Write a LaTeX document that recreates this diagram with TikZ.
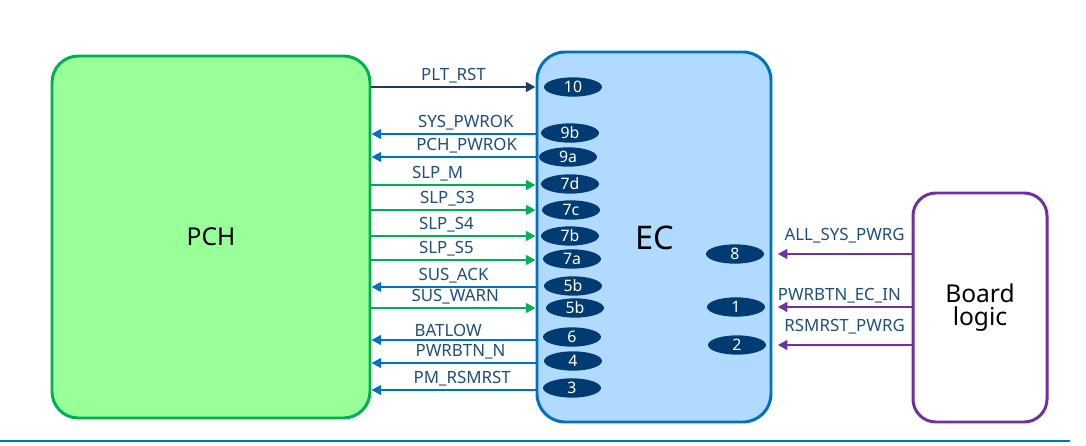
\documentclass[tikz,border=0pt]{standalone}
\usepackage{fontspec}
\setmainfont{Noto Sans}
\usetikzlibrary{arrows.meta,shapes.geometric}
\definecolor{pchfill}{HTML}{99FF99}
\definecolor{pchline}{HTML}{00B050}
\definecolor{ecfill}{HTML}{B0DAFF}
\definecolor{ecline}{HTML}{0070C0}
\definecolor{brdline}{HTML}{7030A0}
\definecolor{pinfill}{HTML}{003C71}
\definecolor{rstline}{HTML}{1F3A66}
\definecolor{lbltext}{HTML}{1F4E79}
\tikzset{
  pinoval/.style={ellipse,fill=pinfill,text=white,font=\bfseries\fontsize{9}{9}\selectfont,minimum width=33pt,minimum height=11pt,inner sep=0pt},
  sig/.style={line width=1.6pt,-{Triangle[length=5.5pt,width=5.5pt]}},
  lbl/.style={midway,above,text=lbltext,font=\fontsize{9.6}{10}\selectfont,inner sep=1.2pt}
}
\begin{document}
\begin{tikzpicture}[x=0.02cm,y=-0.02cm]
\useasboundingbox (0,0) rectangle (1086,446);
% blocks
\node[draw=pchline,fill=pchfill,line width=1.7pt,rounded corners=15pt,minimum width=318*0.02cm,minimum height=362*0.02cm,font=\fontsize{14}{15}\selectfont] (pch) at (211,237) {PCH};
\node[draw=ecline,fill=ecfill,line width=1.7pt,rounded corners=16pt,minimum width=234*0.02cm,minimum height=370*0.02cm] (ec) at (654,237) {};
\node[font=\fontsize{18.5}{19}\selectfont] (ectxt) at (655,238) {EC};
\node[draw=brdline,line width=1.7pt,rounded corners=13pt,minimum width=134*0.02cm,minimum height=229*0.02cm,align=center,font=\fontsize{14}{15}\selectfont] (brd) at (980,307.5) {Board\\[-2pt]logic};
% pins, PCH side
\node[pinoval] (p10) at (573,87) {10};
\node[pinoval] (p9b) at (570,133) {9b};
\node[pinoval] (p9a) at (568,157) {9a};
\node[pinoval] (p7d) at (570,184) {7d};
\node[pinoval] (p7c) at (571,210) {7c};
\node[pinoval] (p7b) at (570,236) {7b};
\node[pinoval] (p7a) at (572,259) {7a};
\node[pinoval] (p5x) at (573,286) {5b};
\node[pinoval] (p5y) at (575,308) {5b};
\node[pinoval] (p6) at (572,337) {6};
\node[pinoval] (p4) at (573,361) {4};
\node[pinoval] (p3) at (572,388) {3};
% pins, board side
\node[pinoval] (p8) at (735,254) {8};
\node[pinoval] (p1) at (736,307) {1};
\node[pinoval] (p2) at (737,345) {2};
% signals PCH <-> EC
\draw[sig,color=rstline] (pch.east |- 0,87) -- (ec.west |- 0,87) node[lbl]{PLT\_RST};
\draw[sig,color=ecline] (ec.west |- 0,134) -- (pch.east |- 0,134) node[lbl,xshift=7pt]{SYS\_PWROK};
\draw[sig,color=ecline] (ec.west |- 0,157) -- (pch.east |- 0,157) node[lbl,xshift=7.5pt]{PCH\_PWROK};
\draw[sig,color=pchline] (pch.east |- 0,185) -- (ec.west |- 0,185) node[lbl,xshift=-9pt]{SLP\_M};
\draw[sig,color=pchline] (pch.east |- 0,210) -- (ec.west |- 0,210) node[lbl,xshift=-3.5pt]{SLP\_S3};
\draw[sig,color=pchline] (pch.east |- 0,236) -- (ec.west |- 0,236) node[lbl,xshift=-4pt]{SLP\_S4};
\draw[sig,color=pchline] (pch.east |- 0,260) -- (ec.west |- 0,260) node[lbl,xshift=-4pt]{SLP\_S5};
\draw[sig,color=ecline] (ec.west |- 0,287) -- (pch.east |- 0,287) node[lbl]{SUS\_ACK};
\draw[sig,color=pchline] (pch.east |- 0,308) -- (ec.west |- 0,308) node[lbl,xshift=1pt]{SUS\_WARN};
\draw[sig,color=ecline] (ec.west |- 0,340) -- (pch.east |- 0,340) node[lbl,xshift=-3pt]{BATLOW};
\draw[sig,color=ecline] (ec.west |- 0,363) -- (pch.east |- 0,363) node[lbl,xshift=4pt]{PWRBTN\_N};
\draw[sig,color=ecline] (ec.west |- 0,390) -- (pch.east |- 0,390) node[lbl,xshift=5pt]{PM\_RSMRST};
% signals board -> EC
\draw[sig,color=brdline] (brd.west |- p8) -- ([xshift=3pt]ec.east |- p8) node[lbl,yshift=4pt]{ALL\_SYS\_PWRG};
\draw[sig,color=brdline] (brd.west |- p1) -- ([xshift=3pt]ec.east |- p1) node[lbl,xshift=-3pt]{PWRBTN\_EC\_IN};
\draw[sig,color=brdline] (brd.west |- p2) -- ([xshift=3pt]ec.east |- p2) node[lbl,yshift=4pt]{RSMRST\_PWRG};
% bottom rule
\draw[ecline,line width=0.8pt] (0,441) -- (1070,441);
\end{tikzpicture}
\end{document}
